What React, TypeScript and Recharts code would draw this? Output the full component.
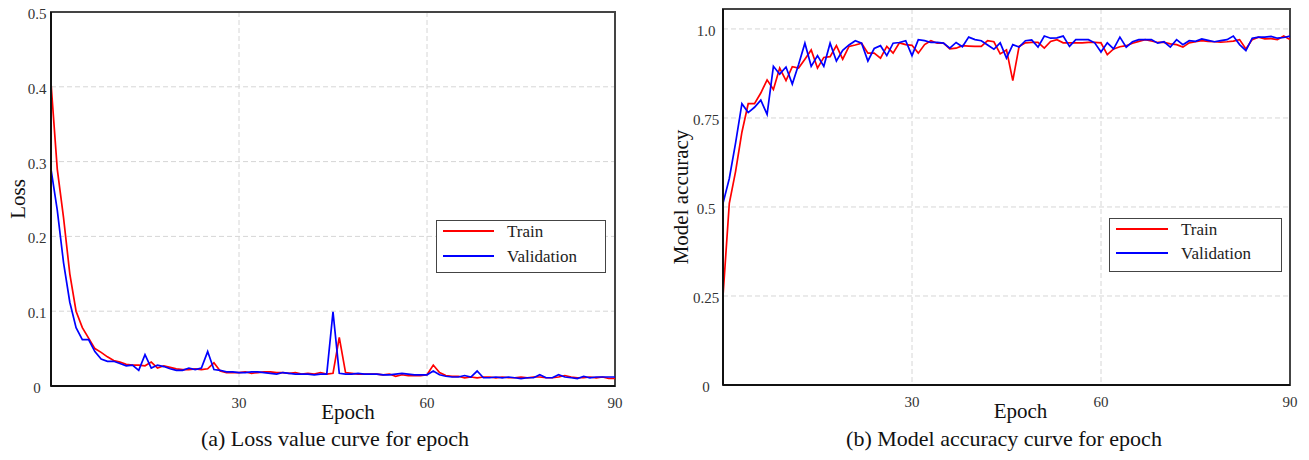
import {
  CartesianGrid,
  Legend,
  Line,
  LineChart,
  ReferenceArea,
  XAxis,
  YAxis,
} from "recharts";

const FONT = '"Liberation Serif", "Times New Roman", serif';

// loss per epoch (0..90)
const lossTrain = [
  0.405, 0.29, 0.225, 0.15, 0.1, 0.078, 0.064, 0.05, 0.045, 0.039,
  0.034, 0.032, 0.029, 0.028, 0.028, 0.027, 0.032, 0.024, 0.027, 0.025,
  0.023, 0.022, 0.022, 0.023, 0.022, 0.023, 0.031, 0.02, 0.018, 0.018,
  0.018, 0.019, 0.017, 0.018, 0.019, 0.019, 0.018, 0.018, 0.017, 0.018,
  0.016, 0.017, 0.016, 0.018, 0.016, 0.017, 0.065, 0.018, 0.017, 0.016,
  0.016, 0.016, 0.016, 0.015, 0.016, 0.013, 0.015, 0.014, 0.014, 0.014,
  0.015, 0.028, 0.018, 0.014, 0.013, 0.013, 0.011, 0.012, 0.011, 0.012,
  0.012, 0.011, 0.012, 0.011, 0.011, 0.012, 0.011, 0.012, 0.012, 0.011,
  0.011, 0.012, 0.014, 0.012, 0.011, 0.011, 0.012, 0.011, 0.012, 0.01,
  0.01,
];
const lossVal = [
  0.29, 0.235, 0.165, 0.112, 0.078, 0.062, 0.062, 0.046, 0.036, 0.033,
  0.033, 0.03, 0.027, 0.028, 0.021, 0.042, 0.024, 0.028, 0.026, 0.023,
  0.021, 0.021, 0.024, 0.022, 0.024, 0.046, 0.022, 0.021, 0.019, 0.019,
  0.018, 0.018, 0.019, 0.019, 0.018, 0.017, 0.016, 0.018, 0.017, 0.016,
  0.016, 0.016, 0.015, 0.016, 0.016, 0.099, 0.017, 0.016, 0.016, 0.017,
  0.016, 0.016, 0.016, 0.015, 0.015, 0.016, 0.017, 0.016, 0.015, 0.015,
  0.015, 0.02, 0.015, 0.013, 0.012, 0.012, 0.014, 0.012, 0.02, 0.011,
  0.011, 0.012, 0.011, 0.012, 0.011, 0.01, 0.011, 0.011, 0.015, 0.011,
  0.011, 0.015, 0.012, 0.011, 0.01, 0.013, 0.011, 0.012, 0.012, 0.012,
  0.012,
];

// accuracy per epoch (0..90)
const accTrain = [
  0.25, 0.51, 0.6, 0.71, 0.79, 0.79, 0.82, 0.857, 0.83, 0.89,
  0.855, 0.894, 0.89, 0.915, 0.941, 0.89, 0.92, 0.922, 0.953, 0.915,
  0.951, 0.955, 0.96, 0.932, 0.932, 0.918, 0.951, 0.932, 0.961, 0.956,
  0.954, 0.932, 0.956, 0.967, 0.96, 0.96, 0.944, 0.946, 0.953, 0.952,
  0.951, 0.951, 0.967, 0.964, 0.93, 0.941, 0.855, 0.951, 0.961, 0.962,
  0.962, 0.946, 0.965, 0.97, 0.961, 0.961, 0.961, 0.961, 0.962, 0.962,
  0.961, 0.928, 0.944, 0.95, 0.953, 0.96, 0.965, 0.97, 0.966, 0.962,
  0.962, 0.958, 0.956, 0.949, 0.961, 0.964, 0.967, 0.965, 0.964, 0.963,
  0.964, 0.966, 0.97, 0.944, 0.97, 0.977, 0.972, 0.973, 0.97, 0.98,
  0.97,
];
const accVal = [
  0.51, 0.58, 0.68, 0.79, 0.765, 0.78, 0.8, 0.76, 0.895, 0.873,
  0.893, 0.845, 0.9, 0.96, 0.895, 0.925, 0.895, 0.96, 0.91, 0.94,
  0.955, 0.967, 0.96, 0.91, 0.945, 0.953, 0.925, 0.96, 0.962, 0.967,
  0.925, 0.97, 0.967, 0.962, 0.962, 0.96, 0.946, 0.962, 0.95, 0.977,
  0.97, 0.967, 0.955, 0.943, 0.961, 0.918, 0.956, 0.949, 0.967, 0.969,
  0.949, 0.98, 0.974, 0.975, 0.98, 0.951, 0.97, 0.97, 0.97, 0.961,
  0.935, 0.961, 0.944, 0.977, 0.949, 0.964, 0.97, 0.97, 0.97, 0.96,
  0.964, 0.949, 0.97, 0.956, 0.967, 0.965, 0.972, 0.968, 0.964, 0.967,
  0.97, 0.98, 0.956, 0.939, 0.974, 0.977, 0.977, 0.979, 0.974, 0.976,
  0.98,
];

const epochTicks = [30, 60, 90];
const lossTicks = [0, 0.1, 0.2, 0.3, 0.4, 0.5];
const lossTickLabels = ["0", "0.1", "0.2", "0.3", "0.4", "0.5"];
const accTicks = [0, 0.25, 0.5, 0.75, 1.0];
const accTickLabels = ["0", "0.25", "0.5", "0.75", "1.0"];

const lossData = lossTrain.map((v, i) => ({ epoch: i, train: v, val: lossVal[i] }));
const accData = accTrain.map((v, i) => ({ epoch: i, train: v, val: accVal[i] }));

function makeYTick(ticks: number[], labels: string[]) {
  return (props: any) => {
    const idx = ticks.indexOf(props.payload.value);
    return (
      <text
        x={props.x}
        y={props.y}
        dy={7}
        textAnchor="middle"
        fontSize={15}
        fontFamily={FONT}
        fill="#333"
      >
        {idx >= 0 ? labels[idx] : props.payload.value}
      </text>
    );
  };
}

function makeXTitle(dx: number) {
  return (props: any) => {
    const vb = props.viewBox;
    return (
      <text
        x={vb.x + vb.width / 2 + dx}
        y={vb.y + 33}
        textAnchor="middle"
        fontSize={21}
        fontFamily={FONT}
        fill="#111"
      >
        Epoch
      </text>
    );
  };
}

function makeYTitle(text: string, cx: number) {
  return (props: any) => {
    const vb = props.viewBox;
    const cy = vb.y + vb.height / 2;
    return (
      <text
        transform={`translate(${vb.x + cx},${cy}) rotate(-90)`}
        textAnchor="middle"
        dominantBaseline="central"
        fontSize={21}
        fontFamily={FONT}
        fill="#111"
      >
        {text}
      </text>
    );
  };
}

function makeLegend(w: number, h: number, rowY: number[], lineEnd: number, textX: number) {
  return (props: any) => {
    const items = props.payload || [];
    return (
      <div
        style={{
          width: w,
          height: h,
          boxSizing: "border-box",
          border: "1.5px solid #444",
          background: "#fff",
        }}
      >
        <svg width={w - 3} height={h - 3} style={{ display: "block" }}>
          {items.map((it: any, i: number) => (
            <g key={it.value}>
              <line x1={6} x2={lineEnd} y1={rowY[i]} y2={rowY[i]} stroke={it.color} strokeWidth={1.8} />
              <text x={textX} y={rowY[i] + 6} fontSize={17} fontFamily={FONT} fill="#222">
                {it.value}
              </text>
            </g>
          ))}
        </svg>
      </div>
    );
  };
}

export default function App() {
  return (
    <div
      style={{
        position: "absolute",
        left: 0,
        top: 0,
        width: 1309,
        height: 460,
        background: "#fff",
        fontFamily: FONT,
      }}
    >
      <div style={{ position: "absolute", left: 0, top: 0 }}>
        <LineChart
          width={640}
          height={460}
          data={lossData}
          margin={{ top: 12, right: 25, bottom: 44, left: 0 }}
        >
          <CartesianGrid stroke="#d6d6d6" strokeDasharray="5 3" />
          <XAxis
            dataKey="epoch"
            type="number"
            domain={[0, 90]}
            ticks={epochTicks}
            height={30}
            tickSize={0}
            tickMargin={11}
            tickLine={false}
            axisLine={{ stroke: "#111", strokeWidth: 2 }}
            tick={{ fontSize: 15, fontFamily: FONT, fill: "#333" }}
            label={makeXTitle(15)}
          />
          <YAxis
            type="number"
            domain={[0, 0.5]}
            ticks={lossTicks}
            width={51}
            tickSize={0}
            tickMargin={14}
            tickLine={false}
            axisLine={{ stroke: "#111", strokeWidth: 2 }}
            tick={makeYTick(lossTicks, lossTickLabels)}
            label={makeYTitle("Loss", 18)}
          />
          <ReferenceArea x1={0} x2={90} y1={0} y2={0.5} fill="none" stroke="#444" strokeWidth={2} />
          <Line type="linear" dataKey="train" name="Train" stroke="#ff0000" strokeWidth={1.7} dot={false} isAnimationActive={false} />
          <Line type="linear" dataKey="val" name="Validation" stroke="#0000ff" strokeWidth={1.7} dot={false} isAnimationActive={false} />
          <Legend
            layout="horizontal"
            verticalAlign="middle"
            align="center"
            wrapperStyle={{ left: 436, top: 220, width: 170, height: 53, right: "auto", bottom: "auto" }}
            content={makeLegend(170, 53, [10, 35], 57, 70)}
          />
        </LineChart>
      </div>

      <div style={{ position: "absolute", left: 655, top: 0 }}>
        <LineChart
          width={654}
          height={460}
          data={accData}
          margin={{ top: 9, right: 19, bottom: 45, left: 0 }}
        >
          <CartesianGrid stroke="#d6d6d6" strokeDasharray="5 3" />
          <XAxis
            dataKey="epoch"
            type="number"
            domain={[0, 90]}
            ticks={epochTicks}
            height={30}
            tickSize={0}
            tickMargin={11}
            tickLine={false}
            axisLine={{ stroke: "#111", strokeWidth: 2 }}
            tick={{ fontSize: 15, fontFamily: FONT, fill: "#333" }}
            label={makeXTitle(14)}
          />
          <YAxis
            type="number"
            domain={[0, 1.056]}
            ticks={accTicks}
            width={68}
            tickSize={0}
            tickMargin={17}
            tickLine={false}
            axisLine={{ stroke: "#111", strokeWidth: 2 }}
            tick={makeYTick(accTicks, accTickLabels)}
            label={makeYTitle("Model accuracy", 26)}
          />
          <ReferenceArea x1={0} x2={90} y1={0} y2={1.056} fill="none" stroke="#444" strokeWidth={2} />
          <Line type="linear" dataKey="train" name="Train" stroke="#ff0000" strokeWidth={1.7} dot={false} isAnimationActive={false} />
          <Line type="linear" dataKey="val" name="Validation" stroke="#0000ff" strokeWidth={1.7} dot={false} isAnimationActive={false} />
          <Legend
            layout="horizontal"
            verticalAlign="middle"
            align="center"
            wrapperStyle={{ left: 454, top: 218, width: 173, height: 54, right: "auto", bottom: "auto" }}
            content={makeLegend(173, 54, [10, 34], 58, 71)}
          />
        </LineChart>
      </div>

      <div
        style={{
          position: "absolute",
          left: 135,
          top: 428,
          width: 400,
          textAlign: "center",
          fontSize: 22,
          lineHeight: "22px",
          color: "#111",
        }}
      >
        (a) Loss value curve for epoch
      </div>
      <div
        style={{
          position: "absolute",
          left: 804,
          top: 428,
          width: 400,
          textAlign: "center",
          fontSize: 22,
          lineHeight: "22px",
          color: "#111",
        }}
      >
        (b) Model accuracy curve for epoch
      </div>
    </div>
  );
}
